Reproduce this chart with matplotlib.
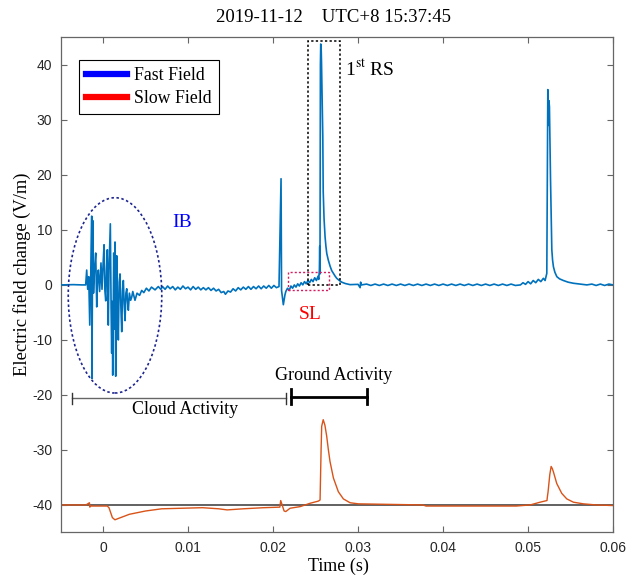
import matplotlib
matplotlib.use("Agg")
import matplotlib.pyplot as plt
from matplotlib.patches import Ellipse, Rectangle
from matplotlib.lines import Line2D
from matplotlib.ticker import FuncFormatter

plt.rcParams['axes.unicode_minus'] = False

# ---------------- data ----------------
fast_t = [-0.005, -0.0035, -0.0025, -0.00204, -0.00192, -0.00180, -0.00168, -0.00156, -0.00145,
          -0.00133, -0.00130, -0.00124, -0.00121, -0.00112, -0.00100, -0.00086, -0.00074, -0.00064,
          -0.00055, -0.00040, -0.00024, -0.00012, 0.00000, 0.00012, 0.00022, 0.00032, 0.00042,
          0.00051, 0.00062, 0.00070, 0.00086, 0.00095, 0.00102, 0.00108, 0.00114, 0.00120,
          0.00126, 0.00134, 0.00141, 0.00149, 0.00155, 0.00161, 0.00170, 0.00180, 0.00190,
          0.00200, 0.00210, 0.00220, 0.00230, 0.00239, 0.00249, 0.00259, 0.00269, 0.00279,
          0.00288, 0.00298, 0.00310, 0.00325, 0.00338, 0.00350, 0.00376, 0.00400, 0.00430,
          0.00455, 0.00480, 0.00510, 0.00540, 0.00570, 0.00612, 0.00650, 0.00680,
          0.0070, 0.0073, 0.0076, 0.0079, 0.0082, 0.0085, 0.0088, 0.0091, 0.0094, 0.0097,
          0.0100, 0.0103, 0.0106, 0.0109, 0.0112, 0.0115, 0.0118, 0.0121, 0.0124, 0.0127,
          0.0130, 0.0133, 0.0136, 0.0139, 0.0142, 0.0144, 0.0147, 0.0150, 0.0153, 0.0156,
          0.0159, 0.0162, 0.0165, 0.0168, 0.0171, 0.0174, 0.0177, 0.0180, 0.0183, 0.0186,
          0.0189, 0.0192, 0.0195, 0.0198, 0.0201, 0.0204, 0.0207, 0.02094, 0.02100, 0.02108,
          0.02121, 0.02130, 0.02140, 0.0215, 0.0217, 0.0219, 0.0221, 0.0223, 0.0225, 0.0227,
          0.0229, 0.0231, 0.0233, 0.0235, 0.0237, 0.0239, 0.0241, 0.0243, 0.0245, 0.0247,
          0.0249, 0.0251, 0.0253, 0.02537, 0.02545, 0.02549, 0.02552, 0.02557, 0.02561,
          0.02566, 0.02570, 0.02575, 0.02580, 0.02585, 0.02590, 0.02600, 0.02612, 0.02622,
          0.02632, 0.02650, 0.02671, 0.0269, 0.0271, 0.0273, 0.02749, 0.0278, 0.02808, 0.0285,
          0.02906, 0.0300, 0.03024, 0.0303, 0.0304, 0.0310, 0.0315, 0.0320, 0.0325, 0.0330,
          0.0335, 0.0340, 0.0345, 0.0350, 0.0355, 0.0360, 0.0365, 0.0370, 0.0375, 0.0380,
          0.0385, 0.0390, 0.0395, 0.0400, 0.0405, 0.0410, 0.0415, 0.0420, 0.0425, 0.0430,
          0.0435, 0.0440, 0.0445, 0.0450, 0.0455, 0.0460, 0.0465, 0.0470, 0.0475, 0.0480,
          0.0485, 0.0491, 0.0494, 0.0497, 0.0500, 0.0503, 0.0506,
          0.0509, 0.0512, 0.0515, 0.0518, 0.0520, 0.0522, 0.05226, 0.05232, 0.05236, 0.05240,
          0.05245, 0.05251, 0.05255, 0.05259, 0.05264, 0.05268, 0.05273, 0.05279, 0.05288,
          0.05298, 0.05315, 0.05338, 0.0537, 0.05415, 0.0547, 0.05533, 0.0561, 0.05691,
          0.0575, 0.0580, 0.0585, 0.0590, 0.0595, 0.0600]
fast_v = [0.0, 0.05, 0.0, 0.0, 2.7, -0.8, 1.5, -7.3, 1.0,
          12.5, -17.0, 2.0, 11.7, -1.5, 3.0, 5.8, -4.0, 1.5,
          2.7, -1.2, 4.0, -0.8, 3.5, 7.3, -1.0, -2.9, 3.0,
          6.4, -7.3, 2.5, 11.1, -4.0, -12.4, -3.0, -16.4, -6.0,
          5.8, -8.0, 7.8, -16.6, -5.0, 5.3, -3.0, -10.0, 0.5,
          2.0, -4.0, -8.5, -1.0, 0.8, -3.5, -6.5, -1.5, -0.7,
          -3.0, -4.6, -1.5, -2.8, -2.2, -1.2, -2.8, -1.5, -1.9,
          -1.0, -1.4, -0.6, -1.1, -0.4, -0.9, -0.3, -0.8,
          -0.3, -0.8, -0.2, -0.7, -0.3, -0.9, -0.4, -0.8, -0.2, -0.7,
          -0.4, -0.9, -0.3, -0.8, -0.4, -0.9, -0.5, -0.9, -0.5, -1.0,
          -0.6, -1.1, -0.8, -1.4, -1.2, -1.7, -1.1, -1.3, -0.7, -1.1,
          -0.5, -0.9, -0.4, -0.8, -0.3, -0.8, -0.3, -0.7, -0.2, -0.7,
          -0.2, -0.6, -0.1, -0.6, -0.1, -0.5, -0.3, 19.3, -1.0, -2.0,
          -3.6, -2.8, -1.8, -1.2, -0.6, -1.0, -0.2, -0.6, 0.0, -0.4,
          0.2, -0.2, 0.4, 0.0, 0.6, 0.2, 0.8, 0.4, 1.0, 0.6,
          1.3, 0.8, 1.6, 1.0, 2.7, 7.0, 2.0, 40.0, 43.8,
          43.0, 40.5, 36.0, 31.0, 27.0, 17.0, 12.0, 8.7, 7.0,
          5.7, 4.5, 3.4, 2.6, 2.1, 1.6, 1.2, 0.8, 0.5, 0.25,
          0.05, 0.1, -0.5, 0.5, 0.0, 0.15, -0.1, 0.15, -0.1, 0.15,
          -0.1, 0.15, -0.1, 0.15, -0.1, 0.15, -0.1, 0.15, -0.1, 0.15,
          -0.1, 0.15, -0.1, 0.15, -0.1, 0.15, -0.1, 0.15, -0.1, 0.15,
          -0.1, 0.15, -0.1, 0.15, -0.1, 0.15, -0.1, 0.15, -0.1, 0.15,
          -0.1, 0.0, 0.4, 0.1, 0.6, 0.2, 0.8,
          0.4, 1.0, 0.6, 1.2, 0.8, 2.1, 20.0, 35.5, 33.0, 29.0,
          33.5, 32.4, 28.0, 24.0, 19.0, 15.5, 10.5, 6.4, 4.5,
          3.3, 2.3, 1.5, 1.1, 0.8, 0.5, 0.3, 0.15, 0.0,
          0.15, -0.1, 0.15, -0.1, 0.15, 0.0]

slow_t = [-0.005, -0.0020, -0.0016, -0.00155, -0.0015, 0.0005, 0.0007, 0.0011, 0.0014, 0.0019,
          0.0031, 0.0050, 0.0069, 0.0093, 0.0117, 0.0136, 0.0146, 0.0165, 0.0189, 0.0208,
          0.0209, 0.0213, 0.0215, 0.0220, 0.0232, 0.02435, 0.02533, 0.02553, 0.02565, 0.02572,
          0.0259, 0.02610, 0.02631, 0.0265, 0.0267, 0.0271, 0.02768, 0.02827, 0.02906,
          0.03004, 0.0376, 0.0380, 0.0486, 0.05024, 0.05141, 0.05222, 0.05227, 0.05235,
          0.05255, 0.05271, 0.05285, 0.05298, 0.05337, 0.05396, 0.05455, 0.05533, 0.05651,
          0.0580, 0.0600]
slow_v = [-40.0, -40.0, -39.6, -40.4, -40.2, -40.2, -40.5, -42.3, -42.7, -42.4,
          -41.7, -41.1, -40.7, -40.6, -40.5, -40.7, -40.9, -40.7, -40.5, -40.4,
          -39.2, -41.1, -41.2, -40.6, -40.3, -39.7, -39.3, -39.1, -30.0, -25.7,
          -24.5, -25.5, -27.5, -29.9, -32.1, -35.1, -37.6, -38.9, -39.6,
          -39.8, -40.0, -40.2, -40.2, -40.0, -39.5, -39.2, -38.5, -37.6,
          -34.5, -33.0, -33.4, -34.0, -36.1, -37.9, -38.9, -39.5, -39.8,
          -40.0, -40.1]

x_ticks = [0, 0.01, 0.02, 0.03, 0.04, 0.05, 0.06]
y_ticks = [-40, -30, -20, -10, 0, 10, 20, 30, 40]
series_labels = ["Fast Field", "Slow Field"]

# ---------------- figure ----------------
serif = ['Liberation Serif', 'DejaVu Serif']
sans = ['Liberation Sans', 'DejaVu Sans']

fig = plt.figure(figsize=(6.37, 5.75), dpi=100)
ax = fig.add_axes([0.095, 0.074, 0.8675, 0.861])

ax.axhline(-40, color='#555555', lw=1.3, zorder=1)
ax.plot(fast_t, fast_v, color='#0072BD', lw=1.2, zorder=3)
ax.plot(slow_t, slow_v, color='#D95319', lw=1.0, zorder=2)

ax.set_xlim(-0.005, 0.06)
ax.set_ylim(-45, 45)
ax.set_xticks(x_ticks)
ax.set_yticks(y_ticks)
ax.xaxis.set_major_formatter(FuncFormatter(lambda v, p: '%g' % v))
ax.yaxis.set_major_formatter(FuncFormatter(lambda v, p: '%d' % v))
ax.tick_params(direction='in', top=True, right=True, length=4, width=0.8,
               color='#666666', labelsize=10, labelcolor='#262626', pad=6)
for lab in ax.get_xticklabels() + ax.get_yticklabels():
    lab.set_fontfamily(sans)
for s in ax.spines.values():
    s.set_color('#666666')
    s.set_linewidth(0.9)

# annotations
ax.add_patch(Ellipse((0.00141, -1.9), 0.011, 35.5, fill=False, ls=(0, (1.5, 1.5)),
                     ec='#1F2690', lw=1.2, zorder=4))
ax.text(0.0081, 11.3, 'IB', color='#0000FF', fontsize=14, family=serif, va='center')

ax.add_patch(Rectangle((0.02408, 0.0), 0.0038, 44.4, fill=False, ls=(0, (1.5, 1.5)),
                       ec='black', lw=1.1, zorder=4))
ax.text(0.02847, 39.3, '1$^{\\rm st}$ RS', color='black', fontsize=14, family=serif,
        va='center', math_fontfamily='stix')

ax.add_patch(Rectangle((0.02173, -0.9), 0.00489, 3.2, fill=False, ls=(0, (1.5, 1.5)),
                       ec='#D81B60', lw=1.0, zorder=4))
ax.text(0.02435, -5.3, 'SL', color='#FF0000', fontsize=14, family=serif, ha='center', va='center')

# activity brackets
ax.plot([-0.0036, 0.0215], [-20.6, -20.6], color='#666666', lw=1.0)
for xc in (-0.0036, 0.0215):
    ax.plot([xc, xc], [-21.6, -19.6], color='#333333', lw=1.0)
ax.text(0.00965, -22.7, 'Cloud Activity', fontsize=13, family=serif, ha='center', va='center')

ax.plot([0.0221, 0.0311], [-20.3, -20.3], color='black', lw=2.0)
for xc in (0.0221, 0.0311):
    ax.plot([xc, xc], [-21.6, -19.0], color='black', lw=2.0)
ax.text(0.0271, -16.4, 'Ground Activity', fontsize=13, family=serif, ha='center', va='center')

# legend
handles = [Line2D([], [], color='#0000FF', lw=4.5), Line2D([], [], color='#FF0000', lw=4.5)]
leg = ax.legend(handles, series_labels, loc='upper left', bbox_to_anchor=(0.0335, 0.9545),
                borderaxespad=0, fancybox=False, edgecolor='black', framealpha=1,
                prop={'family': serif, 'size': 12.8}, handlelength=2.3, handletextpad=0.4,
                borderpad=0.4, labelspacing=0.35)
leg.get_frame().set_linewidth(0.8)

fig.text(334 / 637, 1 - 18 / 575, '2019-11-12    UTC+8 15:37:45', fontsize=13.5, family=serif,
         ha='center', va='center')
fig.text(22 / 637, 1 - 274 / 575, 'Electric field change (V/m)', fontsize=13.3, family=serif,
         ha='center', va='center', rotation=90)
fig.text(338 / 637, 1 - 566 / 575, 'Time (s)', fontsize=13, family=serif, ha='center', va='center')

fig.savefig('out.png', dpi=100)
